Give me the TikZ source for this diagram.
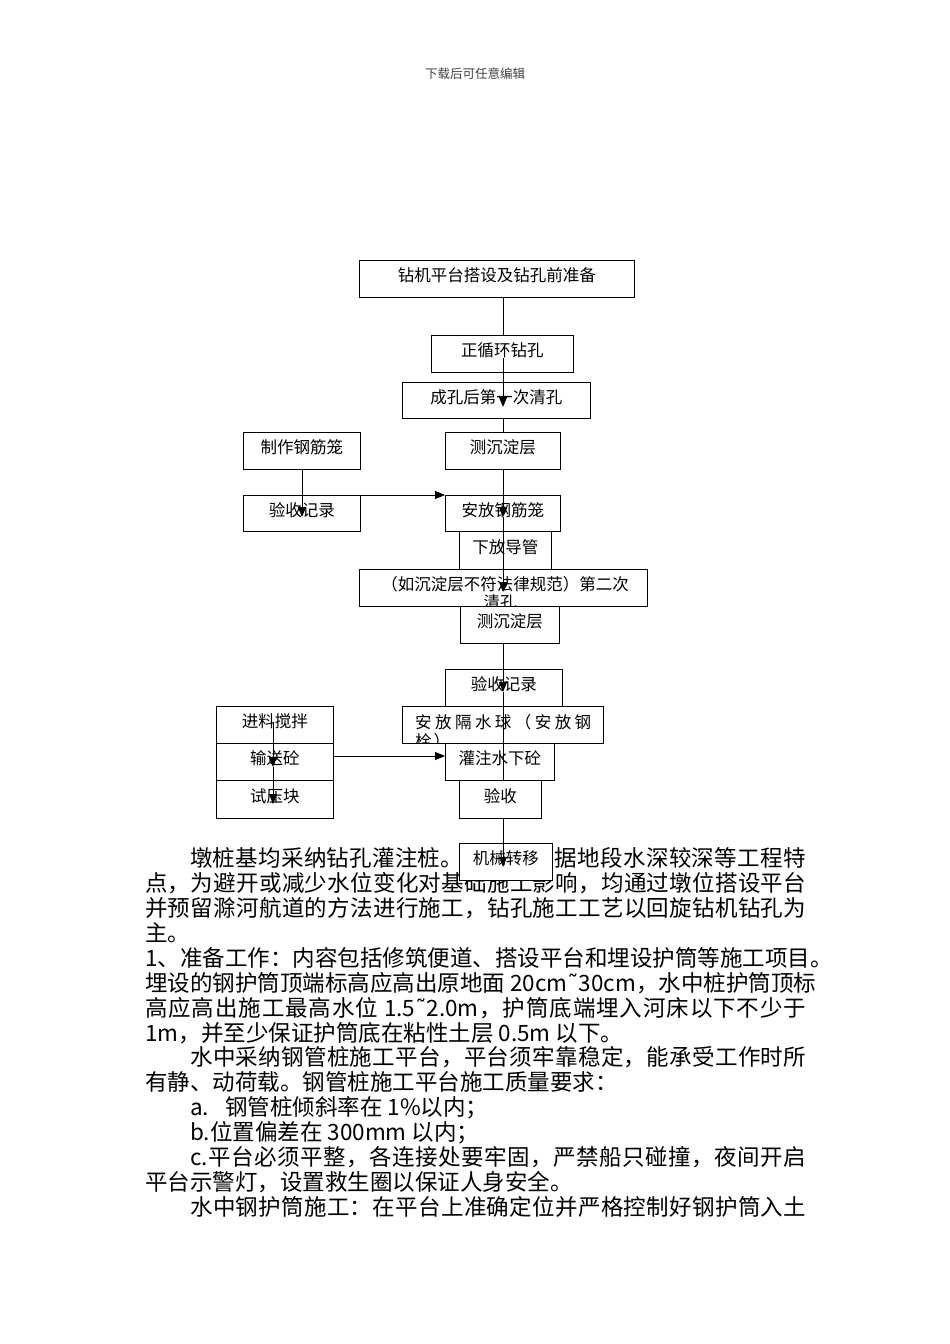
\documentclass[tikz,border=0pt]{standalone}
\usepackage{fontspec}
\setmainfont{Noto Sans CJK SC}
\newfontfamily\djv{DejaVu Sans}
\usetikzlibrary{arrows.meta}
\newcommand\flowfs{\fontsize{16.5}{18}\selectfont}
\newcommand\bodyfs{\fontsize{22.5}{25}\selectfont}
\newcommand\hdrfs{\fontsize{12.5}{14}\selectfont}
\newcommand\rtilde{{\djv ˜}}
\ExplSyntaxOn
\NewDocumentCommand\jline{m}{
  \bool_set_true:N \l_tmpa_bool
  \tl_map_inline:nn {#1}
    {
      \bool_if:NTF \l_tmpa_bool
        { \bool_set_false:N \l_tmpa_bool }
        { \hfil }
      ##1
    }
}
\ExplSyntaxOff
\tikzset{
  fbox/.style={draw, line width=0.9pt, fill=white, inner sep=0pt, anchor=north west,
    font=\flowfs, text height=14pt, text depth=8pt},
  conn/.style={line width=0.9pt},
  arr/.style={line width=0.9pt, -{Triangle[length=10pt,width=8pt]}},
  body/.style={anchor=base west, yshift=-8.5pt, inner sep=0pt, font=\bodyfs,
    text height=15pt, text depth=4pt},
  ftext/.style={inner sep=0pt, font=\flowfs},
}
\begin{document}
\begin{tikzpicture}[x=1pt,y=-1pt]
\useasboundingbox (0,0) rectangle (950,1344);
\fill[white] (0,0) rectangle (950,1344);
\coordinate (mx) at (503,0);
\coordinate (lx) at (302,0);

% header
\node[font=\hdrfs, text=black!75, inner sep=0pt] (hdr) at (475,74) {下载后可任意编辑};

% body text
\node[body] (p1a) at (190,858) {\hbox to 273pt{\jline{墩桩基均采纳钻孔灌注桩。}}};
\node[body, anchor=base east] (p1b) at (806,858) {\hbox to 251pt{\jline{据地段水深较深等工程特}}};
\node[body] (p2) at (145,883) {\hbox to 661pt{\jline{点，为避开或减少水位变化对基础施工影响，均通过墩位搭设平台}}};
\node[body] (p3) at (145,908) {\hbox to 661pt{\jline{并预留滁河航道的方法进行施工，钻孔施工工艺以回旋钻机钻孔为}}};
\node[body] (p4) at (145,933) {主。};
\node[body] (p5) at (145,958) {1、准备工作：内容包括修筑便道、搭设平台和埋设护筒等施工项目。};
\node[body] (p6) at (145,983) {\hbox to 661pt{\jline{埋设的钢护筒顶端标高应高出原地面{\hspace{5pt}20cm\rtilde 30cm}，水中桩护筒顶标}}};
\node[body] (p7) at (145,1008) {\hbox to 661pt{\jline{高应高出施工最高水位{\hspace{5pt}1.5\rtilde 2.0m}，护筒底端埋入河床以下不少于}}};
\node[body] (p8) at (145,1033) {1m，并至少保证护筒底在粘性土层 0.5m 以下。};
\node[body] (p9) at (190,1057) {\hbox to 616pt{\jline{水中采纳钢管桩施工平台，平台须牢靠稳定，能承受工作时所}}};
\node[body] (p10) at (145,1082) {有静、动荷载。钢管桩施工平台施工质量要求：};
\node[body] (p11) at (190,1107) {a.\hspace{16pt}钢管桩倾斜率在 1\%以内；};
\node[body] (p12) at (190,1132) {b.位置偏差在 300mm 以内；};
\node[body] (p13) at (190,1157) {\hbox to 616pt{\jline{{c.}平台必须平整，各连接处要牢固，严禁船只碰撞，夜间开启}}};
\node[body] (p14) at (145,1182) {平台示警灯，设置救生圈以保证人身安全。};
\node[body] (p15) at (190,1207) {\hbox to 616pt{\jline{水中钢护筒施工：在平台上准确定位并严格控制好钢护筒入土}}};

% main column
\node[fbox, minimum width=275pt, minimum height=37pt] (b1) at (359,260) {钻机平台搭设及钻孔前准备};
\node[fbox, minimum width=142pt, minimum height=37pt] (b2) at (431,335) {正循环钻孔};
\draw[conn] (b1.south -| mx) -- (b2.north -| mx);
\coordinate (a1) at (503,358);
\node[fbox, minimum width=188pt, minimum height=36pt] (b3) at (402,382) {成孔后第一次清孔};
\coordinate (t1) at (503,407);
\draw[arr] (a1) -- (t1);
\node[fbox, minimum width=115pt, minimum height=37pt] (b4) at (445,432) {测沉淀层};
\draw[conn] (b3.south -| mx) -- (b4.north -| mx);

% left upper
\node[fbox, minimum width=117pt, minimum height=37pt] (L1) at (243,432) {制作钢筋笼};
\node[fbox, minimum width=117pt, minimum height=36pt] (L2) at (243,495) {验收记录};
\coordinate (t6) at (302,517);
\draw[arr] (L1.south -| lx) -- (t6);

\node[fbox, minimum width=115pt, minimum height=36pt] (b5) at (445,495) {安放钢筋笼};
\draw[arr] (L2.north east) -- (b5.north west);
\coordinate (t2) at (503,517);
\draw[arr] (b4.south -| mx) -- (t2);
\node[fbox, minimum width=92pt, minimum height=38pt] (b6) at (459,531) {下放导管};
\node[fbox, minimum width=288pt, minimum height=37pt] (b7) at (359,569) {};
\begin{scope}
  \clip (b7.south west) rectangle (b7.north east);
  \node[ftext] (b7t1) at (505,584) {（如沉淀层不符法律规范）第二次};
  \node[ftext] (b7t2) at (500,602) {清孔};
\end{scope}
\draw[conn] (b7.south west) rectangle (b7.north east);
\coordinate (t3) at (503,592);
\draw[arr] (t2) -- (t3);
\node[fbox, minimum width=99pt, minimum height=37pt] (b8) at (460,606) {测沉淀层};

\node[fbox, minimum width=117pt, minimum height=37pt] (b9) at (445,669) {验收记录};
\coordinate (t4) at (503,692);
\draw[arr] (b8.south -| mx) -- (t4);
\node[fbox, minimum width=201pt, minimum height=37pt] (b10) at (402,706) {};
\begin{scope}
  \clip (b10.south west) rectangle (b10.north east);
  \node[ftext, anchor=west] (b10t1) at (415,722) {\hbox to 176pt{\jline{安放隔水球（安放钢}}};
  \node[ftext, anchor=west] (b10t2) at (415,741) {栓\hspace{2pt}）};
\end{scope}
\draw[conn] (b10.south west) rectangle (b10.north east);
\node[fbox, minimum width=109pt, minimum height=37pt] (b11) at (445,743) {灌注水下砼};
\draw[conn] (t4) -- (b11.south -| mx);
\node[fbox, minimum width=82pt, minimum height=38pt] (b12) at (459,780) {验收};
\node[fbox, minimum width=93pt, minimum height=37pt] (b13) at (459,843) {机械转移};
\coordinate (t5) at (503,867);
\draw[arr] (b12.south -| mx) -- (t5);

% left lower
\node[fbox, minimum width=117pt, minimum height=37pt] (M1) at (216,706) {进料搅拌};
\node[fbox, minimum width=117pt, minimum height=37pt] (M2) at (216,743) {输送砼};
\node[fbox, minimum width=117pt, minimum height=38pt] (M3) at (216,780) {试压块};
\coordinate (s1) at (273,722);
\coordinate (t7) at (273,767);
\coordinate (t8) at (273,804);
\draw[arr] (s1) -- (t7);
\draw[arr] (t7) -- (t8);
\coordinate (h1) at (0,756);
\draw[arr] (M2.east |- h1) -- (b11.west |- h1);
\end{tikzpicture}
\end{document}
